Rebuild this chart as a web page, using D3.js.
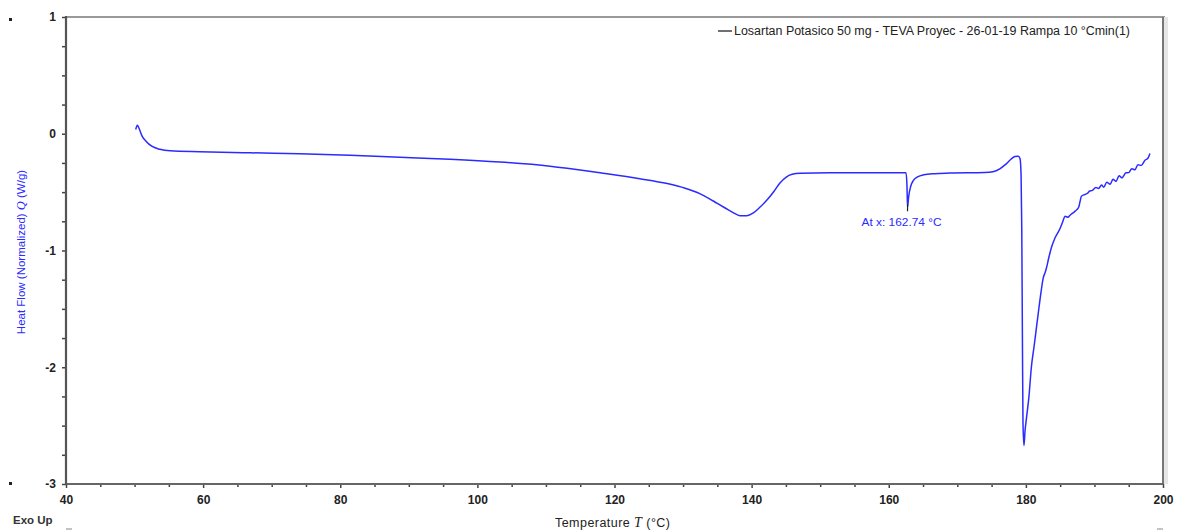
<!DOCTYPE html>
<html><head><meta charset="utf-8">
<script src="https://cdn.jsdelivr.net/npm/d3@7"></script>
<style>
html,body{margin:0;padding:0;background:#fff;}
svg{display:block;font-family:"Liberation Sans",Arial,sans-serif;}
</style></head>
<body><svg id="c" width="1177" height="531"></svg>
<script>
// ---- data ----
const temperature = [50.17,50.4,50.65,51.1,51.67,52.5,53.7,55.2,59.5,66.8,74.1,81.4,88.7,96.0,103.3,110.6,117.9,123.7,127.7,130.3,132.5,133.8,135.0,136.2,137.3,138.3,139.3,140.2,141.2,142.2,143.3,144.1,145.0,145.9,147.1,151.4,162.52,162.66,162.74,162.9,163.2,163.6,164.2,165.1,166.7,168.9,174.0,175.2,176.2,177.0,177.7,178.4,178.9,179.15,179.3,179.4,179.5,179.58,179.72,179.87,180.1,180.45,180.8,181.2,181.5,181.8,182.2,182.55,182.8,183.0,183.35,183.75,184.2,185.0,185.4,185.7,186.15,186.4,187.15,187.7,187.9,188.1,188.6,189.0,189.3,189.7,190.2,190.6,191.05,191.35,191.8,192.3,192.7,193.15,193.6,194.0,194.6,195.0,195.45,195.9,196.35,196.8,197.4,197.8,198.1];
const heatFlow = [0.036,0.073,0.047,-0.02,-0.064,-0.107,-0.133,-0.146,-0.154,-0.163,-0.171,-0.184,-0.201,-0.218,-0.242,-0.278,-0.335,-0.385,-0.427,-0.467,-0.515,-0.555,-0.597,-0.638,-0.675,-0.702,-0.702,-0.68,-0.63,-0.57,-0.49,-0.424,-0.373,-0.347,-0.338,-0.334,-0.334,-0.45,-0.63,-0.54,-0.45,-0.40,-0.37,-0.352,-0.342,-0.337,-0.332,-0.325,-0.30,-0.265,-0.225,-0.195,-0.192,-0.215,-0.35,-0.80,-1.8,-2.48,-2.67,-2.55,-2.43,-2.25,-2.0,-1.82,-1.68,-1.54,-1.36,-1.23,-1.19,-1.15,-1.06,-0.97,-0.90,-0.81,-0.75,-0.707,-0.715,-0.70,-0.665,-0.63,-0.58,-0.535,-0.52,-0.51,-0.49,-0.485,-0.46,-0.468,-0.44,-0.458,-0.415,-0.432,-0.39,-0.408,-0.36,-0.378,-0.335,-0.333,-0.30,-0.308,-0.265,-0.272,-0.225,-0.21,-0.17];
const xMajorTicks = [40,60,80,100,120,140,160,180,200];
const xMinorTicks = [45,50,55,65,70,75,85,90,95,105,110,115,125,130,135,145,150,155,165,170,175,185,190,195];
const yMajorTicks = [1,0,-1,-2,-3];
const yMinorTicks = [0.75,0.5,0.25,-0.25,-0.5,-0.75,-1.25,-1.5,-1.75,-2.25,-2.5,-2.75];
const seriesName = "Losartan Potasico 50 mg - TEVA Proyec - 26-01-19 Rampa 10 °Cmin(1)";
const annotationT = 162.74;
const annotationText = "At x: 162.74 °C";

// ---- drawing ----
const svg = d3.select("#c");
const L=66, R=1163, T=17, B=484;
const x = d3.scaleLinear().domain([40,200]).range([L,R]);
const y = d3.scaleLinear().domain([-3,1]).range([B,T]);

// frame (top / right)
svg.append("line").attr("x1",L).attr("x2",R+2).attr("y1",T).attr("y2",T).attr("stroke","#999").attr("stroke-width",2);
svg.append("line").attr("x1",R).attr("x2",R).attr("y1",T).attr("y2",B).attr("stroke","#777").attr("stroke-width",2);
svg.append("rect").attr("x",R+1).attr("y",T).attr("width",4).attr("height",B-T).attr("fill","#e6e6e6");

// axes
function styleAxis(g){
  g.select(".domain").remove();
  g.selectAll(".tick line").attr("stroke","#444").attr("stroke-width",1.5);
  g.selectAll("text").attr("fill","#222").attr("font-size","12px").attr("font-weight","bold");
}
const gx = svg.append("g").attr("transform",`translate(0,${B})`)
  .call(d3.axisBottom(x).tickValues(xMajorTicks).tickSize(4).tickPadding(7).tickFormat(d3.format("d")));
styleAxis(gx);
const gxm = svg.append("g").attr("transform",`translate(0,${B})`)
  .call(d3.axisBottom(x).tickValues(xMinorTicks).tickSize(3).tickFormat(""));
styleAxis(gxm);
const gy = svg.append("g").attr("transform",`translate(${L},0)`)
  .call(d3.axisLeft(y).tickValues(yMajorTicks).tickSize(4).tickPadding(6).tickFormat(d=>d3.format("d")(d).replace("−","-")));
styleAxis(gy);
const gym = svg.append("g").attr("transform",`translate(${L},0)`)
  .call(d3.axisLeft(y).tickValues(yMinorTicks).tickSize(4).tickFormat(""));
styleAxis(gym);
svg.append("line").attr("x1",L).attr("x2",R).attr("y1",B).attr("y2",B).attr("stroke","#666").attr("stroke-width",2);
svg.append("line").attr("x1",L).attr("x2",L).attr("y1",T-1).attr("y2",B+1).attr("stroke","#555").attr("stroke-width",2.2);

// series line
const pts = temperature.map((t,i)=>[t,heatFlow[i]]);
svg.append("path").datum(pts)
  .attr("fill","none").attr("stroke","#2b2bff").attr("stroke-width",1.5).attr("stroke-linejoin","round")
  .attr("d",d3.line().x(d=>x(d[0])).y(d=>y(d[1])).curve(d3.curveMonotoneX));

// annotation
const annI = temperature.indexOf(annotationT);
svg.append("line").attr("x1",x(annotationT)).attr("x2",x(annotationT))
  .attr("y1",y(heatFlow[annI])-3).attr("y2",y(heatFlow[annI])+4).attr("stroke","#222").attr("stroke-width",1.2);
svg.append("text").attr("x",x(annotationT)-46).attr("y",226).attr("fill","#2b2bff").attr("font-size","11.5px")
  .attr("textLength",80).attr("lengthAdjust","spacingAndGlyphs").text(annotationText);

// legend
svg.append("line").attr("x1",718).attr("x2",732).attr("y1",31).attr("y2",31).attr("stroke","#222").attr("stroke-width",1.3);
svg.append("text").attr("x",734).attr("y",35).attr("fill","#222").attr("font-size","12px")
  .attr("textLength",396).attr("lengthAdjust","spacingAndGlyphs").text(seriesName);

// axis titles
const xt = svg.append("text").attr("x",555).attr("y",527).attr("fill","#222").attr("font-size","12.5px")
  .attr("textLength",115).attr("lengthAdjust","spacing");
xt.append("tspan").text("Temperature  ");
xt.append("tspan").attr("font-style","italic").attr("font-family","'Liberation Serif',serif").attr("font-size","14px").text("T");
xt.append("tspan").text("  (°C)");
const yt = svg.append("text").attr("transform","translate(25,252) rotate(-90)").attr("text-anchor","middle")
  .attr("fill","#2b2bff").attr("font-size","11.5px");
yt.append("tspan").text("Heat Flow (Normalized)  ");
yt.append("tspan").attr("font-style","italic").attr("font-family","'Liberation Serif',serif").attr("font-size","12.5px").text("Q");
yt.append("tspan").text("  (W/g)");

// misc
svg.append("text").attr("x",13).attr("y",524).attr("fill","#333").attr("font-size","11.5px").attr("font-weight","bold").text("Exo Up");
svg.append("rect").attr("x",9).attr("y",18).attr("width",3).attr("height",3).attr("fill","#222");
svg.append("rect").attr("x",9).attr("y",482).attr("width",3).attr("height",3).attr("fill","#222");
svg.append("line").attr("x1",66).attr("x2",72).attr("y1",529).attr("y2",529).attr("stroke","#888");
svg.append("line").attr("x1",1157).attr("x2",1163).attr("y1",529).attr("y2",529).attr("stroke","#888");
</script></body></html>
